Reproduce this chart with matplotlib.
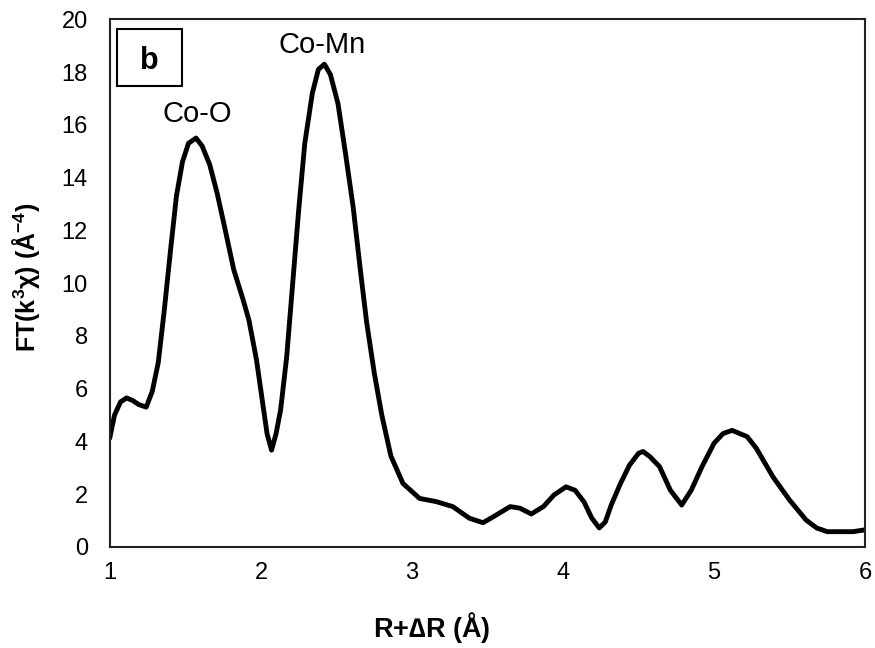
import numpy as np
import matplotlib.pyplot as plt
from matplotlib.patches import Rectangle

plt.rcParams["font.family"] = ["Liberation Sans", "DejaVu Sans"]

# FT magnitude
r = [1.00, 1.03, 1.07, 1.11, 1.15, 1.19, 1.24, 1.28, 1.32, 1.36, 1.40, 1.44,
     1.48, 1.52, 1.57, 1.61, 1.66, 1.71, 1.76, 1.82, 1.88, 1.92, 1.97, 2.01,
     2.04, 2.07, 2.10, 2.13, 2.17, 2.21, 2.25, 2.29, 2.34, 2.38, 2.42, 2.46,
     2.51, 2.56, 2.61, 2.66, 2.70, 2.75, 2.80, 2.86, 2.94, 3.05, 3.16, 3.27,
     3.38, 3.47, 3.54, 3.65, 3.715, 3.79, 3.87, 3.94, 4.02, 4.08, 4.14, 4.19,
     4.24, 4.28, 4.32, 4.38, 4.44, 4.50, 4.53, 4.576, 4.64, 4.71, 4.786, 4.85,
     4.92, 5.00, 5.06, 5.12, 5.22, 5.28, 5.39, 5.50, 5.61, 5.68, 5.75, 5.92,
     6.00]
ft = [4.17, 5.0, 5.5, 5.65, 5.55, 5.4, 5.3, 5.9, 7.0, 9.0, 11.2, 13.3,
      14.6, 15.3, 15.5, 15.2, 14.5, 13.4, 12.1, 10.5, 9.4, 8.6, 7.1, 5.5,
      4.3, 3.67, 4.3, 5.2, 7.2, 10.0, 12.8, 15.3, 17.2, 18.1, 18.3, 17.9,
      16.8, 14.9, 12.9, 10.4, 8.5, 6.6, 5.0, 3.45, 2.41, 1.84, 1.72, 1.53,
      1.09, 0.92, 1.15, 1.53, 1.47, 1.25, 1.53, 1.97, 2.28, 2.15, 1.7, 1.1,
      0.72, 0.95, 1.6, 2.4, 3.1, 3.55, 3.62, 3.42, 3.04, 2.16, 1.59, 2.16,
      3.04, 3.93, 4.3, 4.42, 4.18, 3.74, 2.66, 1.78, 1.02, 0.72, 0.58, 0.58,
      0.65]

peak_labels = ["Co-O", "Co-Mn"]
peak_pos = [(1.576, 16.11), (2.402, 18.72)]

fig = plt.figure(figsize=(8.75, 6.48), dpi=100)
ax = fig.add_axes([0.1257, 0.1559, 0.8629, 0.8143])

ax.plot(r, ft, color="black", lw=3.5, solid_joinstyle="round")
ax.set_xlim(1, 6)
ax.set_ylim(0, 20)
ax.set_xticks(range(1, 7))
ax.set_yticks(range(0, 21, 2))
ax.tick_params(length=0, labelsize=17)
ax.tick_params(axis="x", pad=11)
ax.tick_params(axis="y", pad=16)
for s in ax.spines.values():
    s.set_linewidth(1.5)
    s.set_color("#222222")

ax.set_xlabel("R+$\\mathregular{\u2206}$R (\u00c5)", fontsize=19.5, fontweight="bold")
ax.xaxis.label.set_va("baseline")
ax.xaxis.set_label_coords(0.4265, -0.1705)
ax.set_ylabel("FT(k$^\\mathregular{3}$\u03c7) (\u00c5$^\\mathregular{-4}$)",
              fontsize=18, fontweight="bold")
ax.yaxis.set_label_coords(-0.09, 0.511)

for lab, (x, y) in zip(peak_labels, peak_pos):
    ax.text(x, y, lab, fontsize=21, ha="center", va="baseline")

ax.add_patch(Rectangle((0.0089, 0.873), 0.0861, 0.1093, transform=ax.transAxes,
                       fill=False, lw=1.5, ec="black"))
ax.text(0.0523, 0.9066, "b", transform=ax.transAxes, fontsize=22,
        fontweight="bold", ha="center", va="baseline")

fig.savefig("out.png", dpi=100)
